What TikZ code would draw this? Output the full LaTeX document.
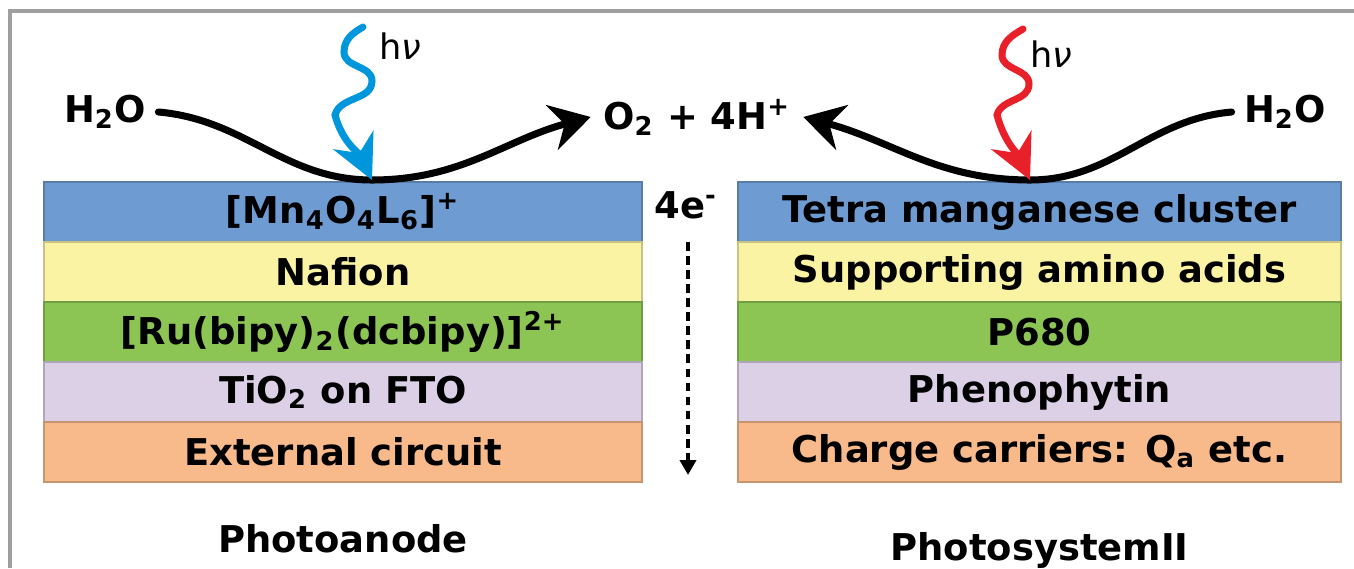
\documentclass[tikz,border=0pt]{standalone}
\usepackage{fontspec}
\setmainfont{DejaVu Sans}
\usepackage{tikz}
\usetikzlibrary{positioning, arrows.meta}
\definecolor{mnblue}{HTML}{6F9BD3}
\definecolor{nafyel}{HTML}{FBF3A4}
\definecolor{rugreen}{HTML}{8DC554}
\definecolor{tilila}{HTML}{DCD0E6}
\definecolor{extor}{HTML}{F8BA8B}
\definecolor{lightblue}{HTML}{0096DB}
\definecolor{lightred}{HTML}{E8202A}
\tikzset{>={Stealth[length=0.4cm,width=0.46cm]},
node distance=0pt,
txt/.style={font=\fontsize{10.5}{12}\selectfont\bfseries},
layer/.style={txt, fill=#1, draw=#1!80!black, minimum height=0.6cm, inner sep=0pt, outer sep=0pt},
anode/.style={minimum width=5.98cm},
psii/.style={minimum width=6.03cm},
react/.style={->, line width=2pt, line cap=round},
photon/.style={draw=#1, ->, line width=2pt, line cap=round, >={Stealth[length=0.44cm,width=0.44cm]}},
eflow/.style={->, >={Triangle[length=0.15cm,width=0.16cm]}, line width=1.2pt, dash pattern=on 2.5pt off 1.5pt}
}
\begin{document}
\begin{tikzpicture}
\useasboundingbox (0,0) rectangle (13.54,5.68);
\draw[gray!75, line width=1pt] (0.10,0) -- (0.10,5.57) -- (13.54,5.57);

% photoanode
\node[layer=mnblue, anode] (mn) at (3.43,3.56) {[Mn\textsubscript{4}O\textsubscript{4}L\textsubscript{6}]\textsuperscript{+}};
\node[layer=nafyel, anode, below=of mn] (naf) {Nafion};
\node[layer=rugreen, anode, below=of naf] (ru) {[Ru(bipy)\textsubscript{2}(dcbipy)]\textsuperscript{2+}};
\node[layer=tilila, anode, below=of ru] (ti) {TiO\textsubscript{2} on FTO};
\node[layer=extor, anode, below=of ti] (ext) {External circuit};
\node[txt, below=0.3cm of ext] (pa) {Photoanode};

% photosystem II
\node[layer=mnblue, psii] (tmc) at (10.395,3.56) {Tetra manganese cluster};
\node[layer=nafyel, psii, below=of tmc] (saa) {Supporting amino acids};
\node[layer=rugreen, psii, below=of saa] (p680) {P680};
\node[layer=tilila, psii, below=of p680] (pheo) {Phenophytin};
\node[layer=extor, psii, below=of pheo] (cc) {Charge carriers: Q\textsubscript{a} etc.};
\node[txt, below=0.38cm of cc] (ps) {PhotosystemII};

% water oxidation
\node[txt] (h2oL) at (1.05,4.56) {H\textsubscript{2}O};
\node[txt] (prod) at (6.97,4.51) {O\textsubscript{2} + 4H\textsuperscript{+}};
\node[txt] (h2oR) at (12.85,4.56) {H\textsubscript{2}O};
\coordinate (dipL) at (3.72,3.88);
\coordinate (dipR) at (10.30,3.88);
\draw[react] (h2oL.east) to[out=-5,in=180] (dipL) to[out=0,in=195] (prod.west);
\draw[react] (h2oR.west) to[out=185,in=0] (dipR) to[out=180,in=-15] (prod.east);

% light
\coordinate (sunL) at (3.63,5.41);
\coordinate (wL1) at (3.44,5.16);
\coordinate (wL2) at (3.72,4.87);
\coordinate (wL3) at (3.35,4.53);
\coordinate (sunR) at (10.23,5.39);
\coordinate (wR1) at (10.02,5.13);
\coordinate (wR2) at (10.29,4.84);
\coordinate (wR3) at (9.97,4.53);
\draw[photon=lightblue] (sunL) to[out=210,in=90] (wL1) to[out=-90,in=90] (wL2)
  to[out=-90,in=75] (wL3) to[out=-75,in=115] (dipL);
\draw[photon=lightred] (sunR) to[out=210,in=90] (wR1) to[out=-90,in=90] (wR2)
  to[out=-90,in=75] (wR3) to[out=-75,in=115] (dipR);
\node (hvL) at (4.00,5.22) {h\textit{ν}};
\node (hvR) at (10.51,5.14) {h\textit{ν}};

% electrons
\node[txt] (el) at (6.86,3.63) {4e\textsuperscript{-}};
\coordinate (eTop) at (6.88,3.26);
\coordinate (eEnd) at (6.88,0.93);
\draw[eflow] (eTop) -- (eEnd);
\end{tikzpicture}
\end{document}
